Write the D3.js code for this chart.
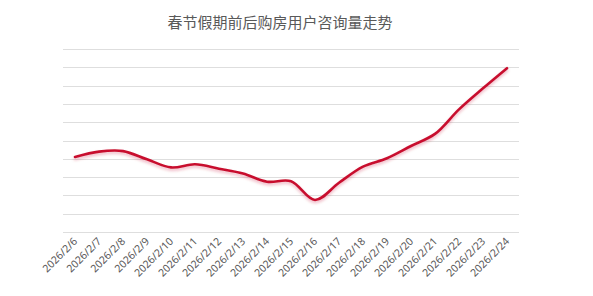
<!DOCTYPE html>
<html>
<head>
<meta charset="utf-8">
<script src="https://cdn.jsdelivr.net/npm/d3@7"></script>
<style>
  body { margin: 0; background: #fff; }
  text { font-family: "Noto Sans", "Noto Sans CJK SC", sans-serif; }
</style>
</head>
<body>
<svg id="chart" width="593" height="296"></svg>
<script>
// 数据
const dates = ["2026/2/6", "2026/2/7", "2026/2/8", "2026/2/9", "2026/2/10", "2026/2/11", "2026/2/12",
  "2026/2/13", "2026/2/14", "2026/2/15", "2026/2/16", "2026/2/17", "2026/2/18", "2026/2/19",
  "2026/2/20", "2026/2/21", "2026/2/22", "2026/2/23", "2026/2/24"];
const consults = [4.1, 4.39, 4.42, 3.97, 3.53, 3.7, 3.46, 3.2, 2.75, 2.77, 1.75, 2.69, 3.57, 4.03,
  4.7, 5.36, 6.7, 7.85, 8.95];
const gridTicks = [0, 1, 2, 3, 4, 5, 6, 7, 8, 9, 10];

const svg = d3.select("#chart");
const width = +svg.attr("width");
const height = +svg.attr("height");

const leftMargin = 63;
const rightMargin = 74;
const topMargin = 49;
const bottomMargin = 64;

const x = d3.scaleBand()
  .domain(dates)
  .range([leftMargin, width - rightMargin]);

const y = d3.scaleLinear()
  .domain([0, 10])
  .range([height - bottomMargin, topMargin]);

// 阴影
const defs = svg.append("defs");
const f = defs.append("filter").attr("id", "shadow")
  .attr("x", "-10%").attr("y", "-10%").attr("width", "120%").attr("height", "140%");
f.append("feDropShadow")
  .attr("dx", 0).attr("dy", 2).attr("stdDeviation", 1.5)
  .attr("flood-color", "#c8102e").attr("flood-opacity", 0.3);

// 网格线
svg.append("g")
  .selectAll("line")
  .data(gridTicks)
  .enter()
  .append("line")
    .attr("x1", leftMargin)
    .attr("x2", width - rightMargin)
    .attr("y1", d => Math.round(y(d)) + 0.5)
    .attr("y2", d => Math.round(y(d)) + 0.5)
    .attr("stroke", "#dedede")
    .attr("stroke-width", 1);

// 折线
const line = d3.line()
  .x((d, i) => x(dates[i]) + x.bandwidth() / 2)
  .y(d => y(d))
  .curve(d3.curveCatmullRom.alpha(0.5));

svg.append("path")
  .datum(consults)
  .attr("d", line)
  .attr("fill", "none")
  .attr("stroke", "#c8102e")
  .attr("stroke-width", 2.6)
  .attr("stroke-linecap", "round")
  .attr("filter", "url(#shadow)");

// X 轴标签
svg.append("g")
  .selectAll("text")
  .data(dates)
  .enter()
  .append("text")
    .attr("transform", d => `translate(${x(d) + x.bandwidth() / 2 + 3}, ${height - bottomMargin + 10}) rotate(-45)`)
    .attr("text-anchor", "end")
    .attr("font-size", 10.5)
    .attr("fill", "#595959")
    .text(d => d);

// 标题
svg.append("text")
  .attr("x", 280)
  .attr("y", 28)
  .attr("text-anchor", "middle")
  .attr("font-size", 15)
  .attr("fill", "#595959")
  .text("春节假期前后购房用户咨询量走势");
</script>
</body>
</html>
